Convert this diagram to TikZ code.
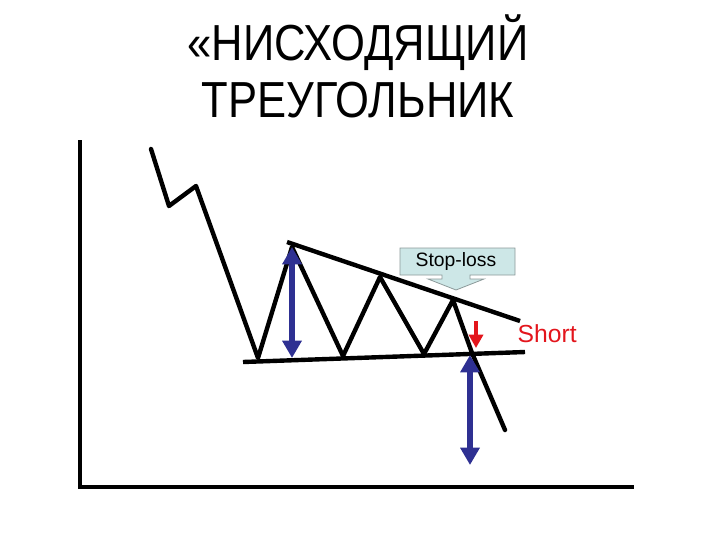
\documentclass[tikz,border=0pt]{standalone}
\usepackage{fontspec}
\setmainfont{Liberation Sans}
\usetikzlibrary{arrows.meta,positioning}
\definecolor{rangeblue}{HTML}{2E3092}
\definecolor{shortred}{HTML}{E3151C}
\definecolor{stopfill}{HTML}{CDE7E7}
\definecolor{stopedge}{HTML}{8C9A9A}

\begin{document}
\begin{tikzpicture}[x=0.75pt,y=0.75pt,yscale=-1,xscale=1]
\useasboundingbox (0,0) rectangle (720,540);
\tikzset{
  priceline/.style={line width=3.3pt, line join=round, line cap=round},
  rangearrow/.style={rangeblue, line width=3.8pt, {Triangle[width=14pt,length=13pt]}-{Triangle[width=14pt,length=13pt]}},
  titletext/.style={font=\fontsize{38}{44}\selectfont, xscale=0.86, anchor=base, inner sep=0pt}
}

% Title
\node[titletext] (titleA) at (358,60) {«НИСХОДЯЩИЙ};
\node[titletext] (titleB) at (358,117) {ТРЕУГОЛЬНИК};

% Axes
\coordinate (axtop) at (80,140);
\coordinate (axorigin) at (80,487);
\coordinate (axright) at (634,487);
\draw[line width=3.4pt] (axtop) -- (axorigin) -- (axright);

% Price path
\coordinate (p0) at (151,149);
\coordinate (p1) at (169,206);
\coordinate (p2) at (196,186);
\coordinate (p3) at (258,358);
\coordinate (p4) at (292,247);
\coordinate (p5) at (343,356);
\coordinate (p6) at (380,277);
\coordinate (p7) at (424,354);
\coordinate (p8) at (453,300);
\coordinate (p9) at (472,353);
\coordinate (p10) at (505,430);
\draw[priceline] (p0) -- (p1) -- (p2) -- (p3) -- (p4) -- (p5) -- (p6) -- (p7) -- (p8) -- (p9) -- (p10);

% Triangle borders
\coordinate (resA) at (287,242);
\coordinate (resB) at (520,321);
\coordinate (supA) at (243,362);
\coordinate (supB) at (525,352);
\draw[priceline, line cap=butt] (resA) -- (resB);
\draw[priceline, line cap=butt] (supA) -- (supB);

% Height of the triangle and target
\coordinate (hA) at (292,247);
\coordinate (hB) at (292,358);
\coordinate (tA) at (470,355);
\coordinate (tB) at (470,465);
\draw[rangearrow] (hA) -- (hB);
\draw[rangearrow] (tA) -- (tB);

% Short signal
\coordinate (sA) at (476,321);
\coordinate (sB) at (476,348);
\draw[shortred, line width=3.4pt, -{Triangle[width=10.5pt,length=10pt]}] (sA) -- (sB);
\node[shortred, font=\fontsize{18.5}{20}\selectfont, anchor=west] (short) at (513,334) {Short};

% Stop-loss callout
\draw[stopedge, fill=stopfill, line width=0.6pt] (400,248) -- (515,248) -- (515,275) -- (470,275) -- (470,279) -- (484,279) -- (456,290) -- (428,279) -- (442,279) -- (442,275) -- (400,275) -- cycle;
\node[font=\fontsize{14.5}{16}\selectfont] (stoploss) at (456,261.5) {Stop-loss};

\end{tikzpicture}
\end{document}
